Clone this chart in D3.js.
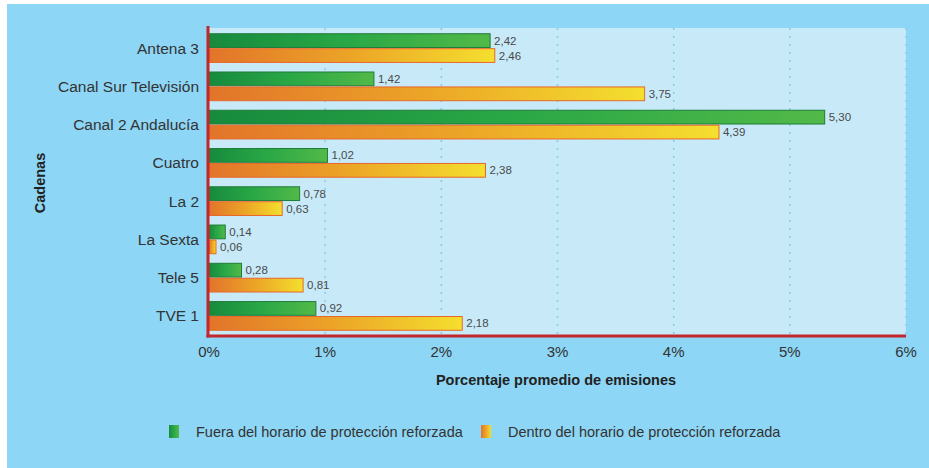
<!DOCTYPE html>
<meta charset="utf-8">
<style>

body {
  margin: 0;
  background: #fff;
}

text {
  font-family: "Liberation Sans", Arial, sans-serif;
}

.cat {
  font-size: 15.5px;
  fill: #333;
}

.val {
  font-size: 11.5px;
  fill: #4a4a4a;
}

.tick {
  font-size: 15px;
  fill: #333;
}

.title {
  font-size: 14.5px;
  font-weight: bold;
  fill: #222;
}

.leg {
  font-size: 14.5px;
  fill: #333;
}

</style>
<body>
</body>
<script src="https://cdn.jsdelivr.net/npm/d3@7"></script>
<script>

var categories = ["Antena 3", "Canal Sur Televisión", "Canal 2 Andalucía", "Cuatro", "La 2", "La Sexta", "Tele 5", "TVE 1"];
var fuera = [2.42, 1.42, 5.30, 1.02, 0.78, 0.14, 0.28, 0.92];
var dentro = [2.46, 3.75, 4.39, 2.38, 0.63, 0.06, 0.81, 2.18];
var seriesNames = ["Fuera del horario de protección reforzada", "Dentro del horario de protección reforzada"];
var xTicks = [0, 1, 2, 3, 4, 5, 6];

var w = 929,
    h = 468,
    pl = 208,
    pr = 906,
    pt = 28,
    pb = 336;

var svg = d3.select("body").append("svg")
    .attr("width", w)
    .attr("height", h);

var defs = svg.append("defs");

var g1 = defs.append("linearGradient").attr("id", "gGreen");
g1.append("stop").attr("offset", "0%").attr("stop-color", "#178a3d");
g1.append("stop").attr("offset", "50%").attr("stop-color", "#2aa846");
g1.append("stop").attr("offset", "100%").attr("stop-color", "#52b948");

var g2 = defs.append("linearGradient").attr("id", "gOrange");
g2.append("stop").attr("offset", "0%").attr("stop-color", "#e2742a");
g2.append("stop").attr("offset", "50%").attr("stop-color", "#eca527");
g2.append("stop").attr("offset", "100%").attr("stop-color", "#f4df2e");

// outer panel
svg.append("rect")
    .attr("x", 7).attr("y", 4)
    .attr("width", w - 7).attr("height", h - 4)
    .attr("fill", "#8dd6f5");

// plot area
svg.append("rect")
    .attr("x", pl).attr("y", pt)
    .attr("width", pr - pl).attr("height", pb - pt)
    .attr("fill", "#c7e9f8");

var x = d3.scaleLinear().domain([0, 6]).range([pl + 1, pr]);

var y = d3.scaleBand()
    .domain(categories)
    .range([pt, pb])
    .paddingInner(0.25)
    .paddingOuter(0.15);

var ys = d3.scaleBand()
    .domain([0, 1])
    .range([0, y.bandwidth()])
    .paddingInner(0.08);

// dotted grid
svg.selectAll(".grid")
    .data(xTicks.slice(1))
  .enter().append("line")
    .attr("x1", d => x(d)).attr("x2", d => x(d))
    .attr("y1", pt).attr("y2", pb)
    .attr("stroke", "#7fcdee")
    .attr("stroke-width", 1.5)
    .attr("stroke-dasharray", "2,6");

var rows = categories.map((c, i) => ({ c: c, v: [fuera[i], dentro[i]] }));

var row = svg.selectAll(".row")
    .data(rows)
  .enter().append("g")
    .attr("transform", d => "translate(0," + y(d.c) + ")");

var bars = row.selectAll(".bar")
    .data(d => d.v.map((v, k) => ({ v: v, k: k })))
  .enter();

bars.append("rect")
    .attr("x", x(0))
    .attr("y", d => ys(d.k))
    .attr("width", d => x(d.v) - x(0))
    .attr("height", ys.bandwidth())
    .attr("fill", d => d.k ? "url(#gOrange)" : "url(#gGreen)")
    .attr("stroke", d => d.k ? "#e8682a" : "#1f7d38")
    .attr("stroke-width", 1);

bars.append("text")
    .attr("class", "val")
    .attr("x", d => x(d.v) + 4)
    .attr("y", d => ys(d.k) + ys.bandwidth() / 2)
    .attr("dy", "0.35em")
    .text(d => d3.format(".2f")(d.v).replace(".", ","));

// category labels
svg.selectAll(".cat")
    .data(categories)
  .enter().append("text")
    .attr("class", "cat")
    .attr("x", 199)
    .attr("y", d => y(d) + y.bandwidth() / 2)
    .attr("dy", "0.35em")
    .attr("text-anchor", "end")
    .text(d => d);

// red axes
svg.append("line")
    .attr("x1", pl).attr("x2", pl)
    .attr("y1", pt - 2).attr("y2", pb + 1.5)
    .attr("stroke", "#c1272d").attr("stroke-width", 3);
svg.append("line")
    .attr("x1", pl - 1.5).attr("x2", pr)
    .attr("y1", pb).attr("y2", pb)
    .attr("stroke", "#c1272d").attr("stroke-width", 3);

// x tick labels
svg.selectAll(".tick")
    .data(xTicks)
  .enter().append("text")
    .attr("class", "tick")
    .attr("x", d => x(d))
    .attr("y", 357)
    .attr("text-anchor", "middle")
    .text(d => d + "%");

svg.append("text")
    .attr("class", "title")
    .attr("x", 556).attr("y", 385)
    .attr("text-anchor", "middle")
    .text("Porcentaje promedio de emisiones");

svg.append("text")
    .attr("class", "title")
    .attr("transform", "translate(45,183) rotate(-90)")
    .attr("text-anchor", "middle")
    .text("Cadenas");

// legend
var legX = [169, 481];
var leg = svg.selectAll(".legend")
    .data(seriesNames)
  .enter().append("g")
    .attr("transform", (d, i) => "translate(" + legX[i] + ",425)");

leg.append("rect")
    .attr("width", 10).attr("height", 13)
    .attr("fill", (d, i) => i ? "url(#gOrange)" : "url(#gGreen)");

leg.append("text")
    .attr("class", "leg")
    .attr("x", 27).attr("y", 7)
    .attr("dy", "0.35em")
    .text(d => d);

</script>
